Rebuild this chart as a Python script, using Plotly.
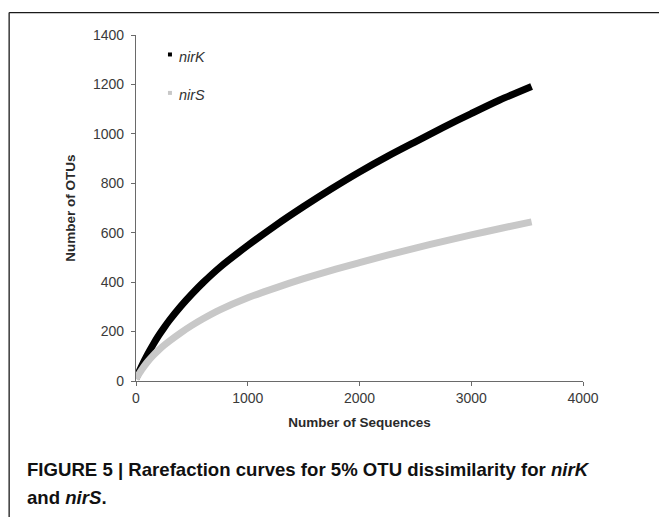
import plotly.graph_objects as go

# Data
seq_x = [0, 50, 100, 150, 200, 250, 300, 400, 500, 600, 750, 1000, 1250, 1500, 1750, 2000, 2250, 2500, 2750, 3000, 3250, 3540]
nirK = [10, 60, 105, 145, 182, 215, 246, 302, 352, 398, 460, 548, 630, 706, 778, 846, 909, 968, 1026, 1082, 1136, 1192]
nirS = [8, 45, 76, 102, 124, 144, 162, 195, 225, 252, 288, 337, 377, 414, 448, 479, 509, 538, 565, 591, 616, 644]
series_names = ["nirK", "nirS"]
series_colors = ["#000000", "#c8c8c8"]
x_ticks = [0, 1000, 2000, 3000, 4000]
y_ticks = [0, 200, 400, 600, 800, 1000, 1200, 1400]

W, H = 659, 517
L, R, T, B = 135.5, 76, 35, 135.5
pw, ph = W - L - R, H - T - B

def px_x(p):
    return (p - L) / pw

def px_y(p):
    return (H - B - p) / ph

fig = go.Figure()
for name, ys, col in zip(series_names, [nirK, nirS], series_colors):
    fig.add_trace(go.Scatter(x=seq_x, y=ys, mode="lines", name=name,
                             line=dict(color=col, width=7, shape="spline", smoothing=0.8),
                             showlegend=False))

axis_common = dict(showline=True, linecolor="#6a6a6a", linewidth=1.2,
                   ticks="outside", ticklen=4, tickcolor="#6a6a6a",
                   showgrid=False, zeroline=False,
                   tickfont=dict(family="Liberation Sans, Arial", size=14, color="#3a3a3a"))

fig.update_xaxes(range=[0, 4000], tickvals=x_ticks, **axis_common,
                 title=dict(text="<b>Number of Sequences</b>", standoff=12,
                            font=dict(family="Liberation Sans, Arial", size=13.5, color="#2a2a2a")))
fig.update_yaxes(range=[0, 1400], tickvals=y_ticks, **axis_common,
                 ticklabelstandoff=4,
                 title=dict(text="<b>Number of OTUs</b>", standoff=14,
                            font=dict(family="Liberation Sans, Arial", size=13.5, color="#2a2a2a")))

annotations = []
shapes = []
legend_rows = [54.5, 93]
for name, col, py in zip(series_names, series_colors, legend_rows):
    shapes.append(dict(type="rect", xref="paper", yref="paper",
                       x0=px_x(167.5), x1=px_x(171.5), y0=px_y(py + 2), y1=px_y(py - 2),
                       fillcolor=col, line=dict(width=0)))
    annotations.append(dict(text="<i>" + name + "</i>", xref="paper", yref="paper",
                            x=px_x(177), y=px_y(py + 2.5), xanchor="left", yanchor="middle",
                            showarrow=False,
                            font=dict(family="Liberation Sans, Arial", size=14.5, color="#333333")))

caption_font = dict(family="Liberation Sans Narrow, Arial Narrow, Liberation Sans", size=18.6, color="#111111")
annotations.append(dict(text="<b>FIGURE 5 | Rarefaction curves for 5% OTU dissimilarity for <i>nirK</i></b>",
                        xref="paper", yref="paper", x=px_x(24), y=px_y(470),
                        xanchor="left", yanchor="middle", showarrow=False, font=caption_font))
annotations.append(dict(text="<b>and <i>nirS</i>.</b>",
                        xref="paper", yref="paper", x=px_x(24), y=px_y(498),
                        xanchor="left", yanchor="middle", showarrow=False, font=caption_font))

# outer frame (top and left edges visible)
shapes.append(dict(type="line", xref="paper", yref="paper",
                   x0=px_x(8.5), x1=px_x(W + 10), y0=px_y(12.5), y1=px_y(12.5),
                   line=dict(color="#1a1a1a", width=1.3)))
shapes.append(dict(type="line", xref="paper", yref="paper",
                   x0=px_x(8.5), x1=px_x(8.5), y0=px_y(12.5), y1=px_y(H + 10),
                   line=dict(color="#1a1a1a", width=1.3)))

fig.update_layout(width=W, height=H, margin=dict(l=L, r=R, t=T, b=B),
                  paper_bgcolor="white", plot_bgcolor="white",
                  annotations=annotations, shapes=shapes)

fig.write_html("out.html")
